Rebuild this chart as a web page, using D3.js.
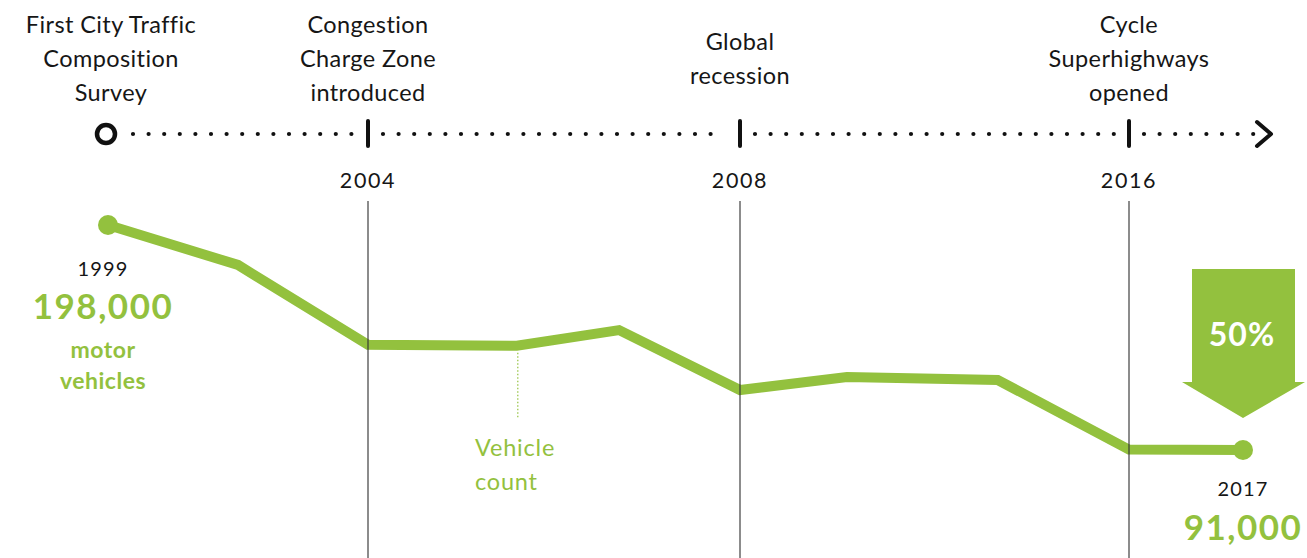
<!DOCTYPE html>
<html>
<head>
<meta charset="utf-8">
<script src="https://cdn.jsdelivr.net/npm/d3@7"></script>
<style>
  body { margin: 0; background: #fff; }
  svg { display: block; font-family: Lato, "Open Sans", sans-serif; }
</style>
</head>
<body>
<div id="chart"></div>
<script>
var svgWidth = 1307;
var svgHeight = 558;

// data
var years = [1999, 2001.5, 2004, 2005.6, 2006.7, 2008, 2010.2, 2013.3, 2016, 2017];
var vehicles = [198000, 179000, 141000, 140600, 148000, 119500, 125700, 124300, 91200, 91000];

var milestoneYears = [1999, 2004, 2008, 2016];
var milestoneLabels = [
  ["First City Traffic", "Composition", "Survey"],
  ["Congestion", "Charge Zone", "introduced"],
  ["Global", "recession"],
  ["Cycle", "Superhighways", "opened"]
];
var dropLabel = "50%";

var green = "#93c13e";
var ink = "#161616";

var svg = d3.select("#chart")
  .append("svg")
  .attr("width", svgWidth)
  .attr("height", svgHeight);

// piecewise scale, the timeline is not evenly spaced
var xScale = d3.scaleLinear()
  .domain([1999, 2004, 2008, 2016, 2017])
  .range([108, 368, 740, 1129, 1243]);

var yScale = d3.scaleLinear()
  .domain([91000, 198000])
  .range([450, 225]);

var timelineY = 134;
var fmt = d3.format(",");

// milestone labels
milestoneYears.forEach(function(yr, i) {
  var lines = milestoneLabels[i];
  var t = svg.append("text")
    .attr("text-anchor", "middle")
    .attr("font-size", 23.5)
    .attr("letter-spacing", 0.4)
    .attr("fill", ink);
  var firstY = lines.length == 3 ? 33 : 50;
  lines.forEach(function(l, j) {
    t.append("tspan")
      .attr("x", xScale(yr) + (i == 0 ? 3 : 0))
      .attr("y", firstY + j * 34)
      .text(l);
  });
});

// dotted timeline, one run between each pair of markers
var stops = milestoneYears.map(xScale).concat([xScale(2017) + 28]);
for (var i = 0; i < stops.length - 1; i++) {
  var x0 = stops[i] + (i == 0 ? 25 : 15);
  var x1 = stops[i + 1] - 14;
  svg.append("line")
    .attr("x1", x0).attr("x2", x1)
    .attr("y1", timelineY).attr("y2", timelineY)
    .attr("stroke", "#111")
    .attr("stroke-width", 4.2)
    .attr("stroke-linecap", "round")
    .attr("stroke-dasharray", "0,15.6");
}

// start circle
svg.append("circle")
  .attr("cx", xScale(1999) - 2)
  .attr("cy", timelineY)
  .attr("r", 9)
  .attr("fill", "none")
  .attr("stroke", "#111")
  .attr("stroke-width", 4.5);

// tick marks
svg.selectAll(".tick-mark")
  .data(milestoneYears.slice(1))
  .enter().append("line")
  .attr("class", "tick-mark")
  .attr("x1", d => xScale(d)).attr("x2", d => xScale(d))
  .attr("y1", timelineY - 13).attr("y2", timelineY + 12)
  .attr("stroke", "#111")
  .attr("stroke-width", 4)
  .attr("stroke-linecap", "round");

// arrow head at the end
var ax = stops[stops.length - 1];
svg.append("path")
  .attr("d", `M${ax - 14},${timelineY - 12} L${ax},${timelineY} L${ax - 14},${timelineY + 12}`)
  .attr("fill", "none")
  .attr("stroke", "#111")
  .attr("stroke-width", 4)
  .attr("stroke-linecap", "round")
  .attr("stroke-linejoin", "round");

// year labels under ticks
svg.selectAll(".year-label")
  .data(milestoneYears.slice(1))
  .enter().append("text")
  .attr("class", "year-label")
  .attr("x", d => xScale(d))
  .attr("y", 188)
  .attr("text-anchor", "middle")
  .attr("font-size", 21.5)
  .attr("letter-spacing", 1.6)
  .attr("fill", ink)
  .text(d => d);

// vehicle count line
var line = d3.line()
  .x((d, i) => xScale(years[i]))
  .y(d => yScale(d));

svg.append("path")
  .datum(vehicles)
  .attr("d", line)
  .attr("fill", "none")
  .attr("stroke", green)
  .attr("stroke-width", 10)
  .attr("stroke-linejoin", "miter");

svg.selectAll(".end-dot")
  .data([0, years.length - 1])
  .enter().append("circle")
  .attr("class", "end-dot")
  .attr("cx", i => xScale(years[i]))
  .attr("cy", i => yScale(vehicles[i]))
  .attr("r", 10)
  .attr("fill", green);

// vertical guides, drawn over the line
svg.selectAll(".guide")
  .data(milestoneYears.slice(1))
  .enter().append("line")
  .attr("class", "guide")
  .attr("x1", d => xScale(d)).attr("x2", d => xScale(d))
  .attr("y1", 201).attr("y2", svgHeight)
  .attr("stroke", "#333")
  .attr("stroke-opacity", 0.75)
  .attr("stroke-width", 1.5);

// "Vehicle count" callout
svg.append("line")
  .attr("x1", xScale(years[3]) + 1).attr("x2", xScale(years[3]) + 1)
  .attr("y1", yScale(vehicles[3]) + 7).attr("y2", 418)
  .attr("stroke", green)
  .attr("stroke-width", 1.2)
  .attr("stroke-dasharray", "1.5,2");

var vc = svg.append("text")
  .attr("font-size", 23.5)
  .attr("letter-spacing", 0.8)
  .attr("fill", green);
["Vehicle", "count"].forEach(function(l, j) {
  vc.append("tspan").attr("x", 475).attr("y", 456 + j * 34).text(l);
});

// start annotation
var sx = xScale(1999) - 5;
svg.append("text")
  .attr("x", sx).attr("y", 276)
  .attr("text-anchor", "middle")
  .attr("font-size", 20)
  .attr("letter-spacing", 1.2)
  .attr("fill", ink)
  .text(years[0]);
svg.append("text")
  .attr("x", sx).attr("y", 319)
  .attr("text-anchor", "middle")
  .attr("font-size", 35)
  .attr("font-weight", 700)
  .attr("letter-spacing", 1.5)
  .attr("fill", green)
  .text(fmt(vehicles[0]));
var mv = svg.append("text")
  .attr("text-anchor", "middle")
  .attr("font-size", 23)
  .attr("font-weight", 700)
  .attr("letter-spacing", 0.5)
  .attr("fill", green);
["motor", "vehicles"].forEach(function(l, j) {
  mv.append("tspan").attr("x", sx).attr("y", 358 + j * 31).text(l);
});

// end annotation
var ex = xScale(2017);
svg.append("text")
  .attr("x", ex).attr("y", 496)
  .attr("text-anchor", "middle")
  .attr("font-size", 20)
  .attr("letter-spacing", 1.2)
  .attr("fill", ink)
  .text(years[years.length - 1]);
svg.append("text")
  .attr("x", ex).attr("y", 540)
  .attr("text-anchor", "middle")
  .attr("font-size", 35)
  .attr("font-weight", 700)
  .attr("letter-spacing", 1.5)
  .attr("fill", green)
  .text(fmt(vehicles[vehicles.length - 1]));

// big drop arrow
var arrow = d3.path();
arrow.moveTo(ex - 51, 269);
arrow.lineTo(ex + 52, 269);
arrow.lineTo(ex + 52, 382);
arrow.lineTo(ex + 62, 382);
arrow.lineTo(ex, 418);
arrow.lineTo(ex - 61, 382);
arrow.lineTo(ex - 51, 382);
arrow.closePath();
svg.append("path")
  .attr("d", arrow.toString())
  .attr("fill", green);

svg.append("text")
  .attr("x", ex - 1).attr("y", 346)
  .attr("text-anchor", "middle")
  .attr("font-size", 32)
  .attr("font-weight", 700)
  .attr("letter-spacing", 1)
  .attr("fill", "#fff")
  .text(dropLabel);
</script>
</body>
</html>
